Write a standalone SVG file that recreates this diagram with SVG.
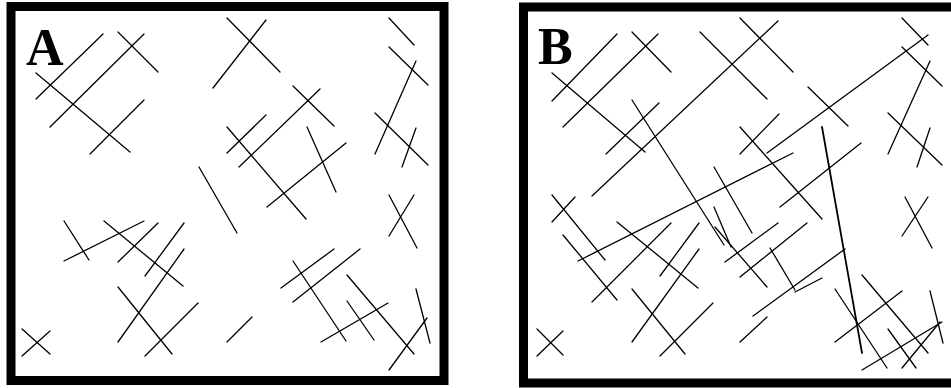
<svg xmlns="http://www.w3.org/2000/svg" width="951" height="388" viewBox="0 0 951 388">
<style>
.frame{fill:#fff;stroke:#000;stroke-width:9}
.lbl{font-family:"Liberation Serif","Times New Roman",serif;font-weight:bold;font-size:52px;fill:#000}
.ln line{stroke:#000;stroke-width:1.3;stroke-linecap:round}
</style>
<rect width="951" height="388" fill="#fff"/>
<g id="panelA">
<rect class="frame" x="11" y="6.5" width="433" height="374"/>
<text class="lbl" x="26" y="65">A</text>
<g class="ln">
<line x1="36" y1="99" x2="103" y2="34"/>
<line x1="36" y1="73" x2="130" y2="152"/>
<line x1="50" y1="127" x2="144" y2="34"/>
<line x1="118" y1="32" x2="158" y2="72"/>
<line x1="90" y1="154" x2="144" y2="100"/>
<line x1="227" y1="18" x2="280" y2="72"/>
<line x1="266" y1="20" x2="213" y2="88"/>
<line x1="293" y1="86" x2="334" y2="126"/>
<line x1="320" y1="89" x2="239" y2="167"/>
<line x1="227" y1="127" x2="306" y2="219"/>
<line x1="227" y1="153" x2="266" y2="115"/>
<line x1="307" y1="127" x2="336" y2="192"/>
<line x1="346" y1="143" x2="267" y2="207"/>
<line x1="389" y1="18" x2="414" y2="45"/>
<line x1="389" y1="47" x2="428" y2="85"/>
<line x1="416" y1="61" x2="375" y2="154"/>
<line x1="375" y1="113" x2="428" y2="165"/>
<line x1="416" y1="128" x2="402" y2="167"/>
<line x1="199" y1="167" x2="237" y2="233"/>
<line x1="64" y1="221" x2="89" y2="260"/>
<line x1="64" y1="261" x2="144" y2="221"/>
<line x1="104" y1="221" x2="183" y2="286"/>
<line x1="118" y1="262" x2="158" y2="223"/>
<line x1="145" y1="276" x2="184" y2="223"/>
<line x1="118" y1="342" x2="184" y2="249"/>
<line x1="118" y1="287" x2="172" y2="354"/>
<line x1="145" y1="356" x2="198" y2="303"/>
<line x1="22" y1="329" x2="50" y2="354"/>
<line x1="22" y1="356" x2="50" y2="331"/>
<line x1="227" y1="342" x2="252" y2="317"/>
<line x1="389" y1="195" x2="417" y2="248"/>
<line x1="414" y1="195" x2="389" y2="236"/>
<line x1="281" y1="288" x2="334" y2="249"/>
<line x1="293" y1="261" x2="346" y2="341"/>
<line x1="293" y1="302" x2="360" y2="249"/>
<line x1="347" y1="275" x2="414" y2="354"/>
<line x1="321" y1="342" x2="388" y2="303"/>
<line x1="347" y1="301" x2="374" y2="340"/>
<line x1="416" y1="289" x2="430" y2="343"/>
<line x1="389" y1="370" x2="427" y2="318"/>
</g>
</g>
<g id="panelB">
<rect class="frame" x="523.5" y="7" width="433" height="376"/>
<text class="lbl" x="538" y="64">B</text>
<g class="ln">
<line x1="552" y1="101" x2="617" y2="34"/>
<line x1="552" y1="73" x2="645" y2="152"/>
<line x1="563" y1="127" x2="658" y2="34"/>
<line x1="632" y1="32" x2="671" y2="72"/>
<line x1="606" y1="154" x2="659" y2="103"/>
<line x1="632" y1="100" x2="724" y2="245"/>
<line x1="592" y1="196" x2="778" y2="21"/>
<line x1="700" y1="32" x2="767" y2="99"/>
<line x1="740" y1="18" x2="793" y2="72"/>
<line x1="808" y1="87" x2="848" y2="126"/>
<line x1="767" y1="153" x2="928" y2="35"/>
<line x1="902" y1="18" x2="928" y2="45"/>
<line x1="902" y1="47" x2="942" y2="86"/>
<line x1="930" y1="61" x2="888" y2="154"/>
<line x1="888" y1="113" x2="942" y2="165"/>
<line x1="930" y1="128" x2="917" y2="167"/>
<line x1="779" y1="114" x2="740" y2="154"/>
<line x1="740" y1="127" x2="822" y2="219"/>
<line x1="822" y1="127" x2="862" y2="353" style="stroke-width:1.8"/>
<line x1="861" y1="143" x2="780" y2="207"/>
<line x1="578" y1="261" x2="793" y2="153"/>
<line x1="714" y1="167" x2="752" y2="233"/>
<line x1="714" y1="207" x2="731" y2="247"/>
<line x1="552" y1="195" x2="605" y2="260"/>
<line x1="575" y1="197" x2="552" y2="222"/>
<line x1="563" y1="235" x2="617" y2="300"/>
<line x1="617" y1="222" x2="698" y2="288"/>
<line x1="671" y1="223" x2="592" y2="302"/>
<line x1="699" y1="223" x2="660" y2="276"/>
<line x1="699" y1="249" x2="632" y2="342"/>
<line x1="632" y1="289" x2="685" y2="354"/>
<line x1="660" y1="356" x2="713" y2="303"/>
<line x1="537" y1="329" x2="563" y2="355"/>
<line x1="537" y1="356" x2="563" y2="331"/>
<line x1="778" y1="223" x2="725" y2="262"/>
<line x1="807" y1="223" x2="740" y2="277"/>
<line x1="715" y1="227" x2="767" y2="287"/>
<line x1="770" y1="248" x2="795" y2="290"/>
<line x1="753" y1="316" x2="845" y2="249"/>
<line x1="795" y1="292" x2="822" y2="278"/>
<line x1="740" y1="342" x2="767" y2="317"/>
<line x1="905" y1="197" x2="932" y2="248"/>
<line x1="928" y1="197" x2="902" y2="236"/>
<line x1="862" y1="275" x2="928" y2="353"/>
<line x1="835" y1="289" x2="887" y2="368"/>
<line x1="835" y1="342" x2="902" y2="291"/>
<line x1="930" y1="291" x2="943" y2="343"/>
<line x1="862" y1="370" x2="942" y2="322"/>
<line x1="888" y1="329" x2="916" y2="368"/>
<line x1="902" y1="368" x2="940" y2="322"/>
</g>
</g>
</svg>
